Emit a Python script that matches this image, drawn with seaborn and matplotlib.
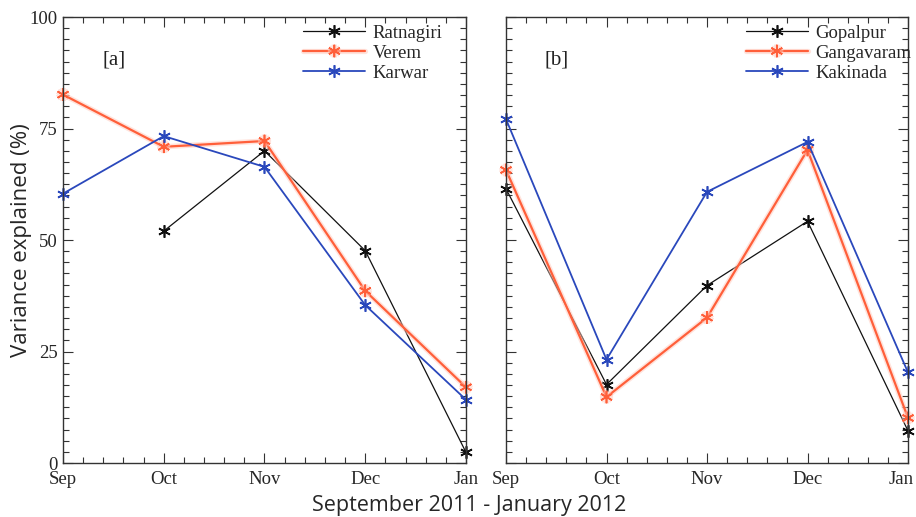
import numpy as np
import pandas as pd
import matplotlib
matplotlib.use("Agg")
import matplotlib.pyplot as plt
import matplotlib.patheffects as pe
import matplotlib.transforms as mtrans
from matplotlib.ticker import MultipleLocator
import seaborn as sns

months = ["Sep", "Oct", "Nov", "Dec", "Jan"]

# Panel [a]
ratnagiri = [np.nan, 52.0, 70.0, 47.6, 2.4]
verem = [82.6, 70.9, 72.2, 38.6, 17.0]
karwar = [60.4, 73.3, 66.4, 35.4, 14.2]

# Panel [b]
gopalpur = [61.5, 17.6, 39.8, 54.2, 7.2]
gangavaram = [65.7, 14.8, 32.6, 70.2, 10.1]
kakinada = [77.1, 23.2, 60.8, 72.0, 20.3]

panel_a = {"Ratnagiri": ratnagiri, "Verem": verem, "Karwar": karwar}
panel_b = {"Gopalpur": gopalpur, "Gangavaram": gangavaram, "Kakinada": kakinada}

colors = ["#111111", "#FF5F3A", "#2A48BC"]
widths = [0.9, 1.6, 1.3]

sns.set_theme(style="white")
serif = ["Liberation Serif", "DejaVu Serif"]
sans = ["Open Sans", "DejaVu Sans"]
plt.rcParams["font.family"] = serif

fig = plt.figure(figsize=(9.16, 5.17), dpi=100)
ax_a = fig.add_axes([0.0688, 0.1044, 0.4399, 0.8627])
ax_b = fig.add_axes([0.5524, 0.1044, 0.4389, 0.8627])

def draw(ax, data, label):
    for i, ((name, vals), c, lw) in enumerate(zip(data.items(), colors, widths)):
        df = pd.DataFrame({"x": np.arange(len(months)), "y": vals}).dropna()
        sns.lineplot(data=df, x="x", y="y", ax=ax, color=c, lw=lw,
                     marker=(6, 2, 0), markersize=9, markeredgecolor=c,
                     markeredgewidth=1.2, label=name, sort=False,
                     clip_on=False)
        if i == 1:
            ax.lines[-1].set_path_effects([
                pe.Stroke(linewidth=3.8, foreground="#FFC8BA", alpha=0.5),
                pe.Normal()])
    ax.set_xlim(0, 4)
    ax.set_ylim(0, 100)
    ax.set_xticks(range(len(months)))
    ax.set_xticklabels(months)
    ax.xaxis.set_minor_locator(MultipleLocator(0.2))
    ax.yaxis.set_major_locator(MultipleLocator(25))
    ax.yaxis.set_minor_locator(MultipleLocator(2.5))
    ax.tick_params(which="both", direction="in", top=True, right=True,
                   bottom=True, left=True, color="#333333", width=0.8,
                   labelsize=13.5)
    ax.tick_params(axis="x", pad=6)
    ax.tick_params(axis="y", pad=4)
    ax.tick_params(which="major", length=7)
    ax.tick_params(which="minor", length=4)
    for s in ax.spines.values():
        s.set_color("#333333")
        s.set_linewidth(1.0)
    ax.set_xlabel("")
    ax.set_ylabel("")
    ax.text(0.506, 90.4, label, fontsize=15, ha="center", va="center",
            family=serif, color="#222222")
    ax.legend(loc="upper left", bbox_to_anchor=(0.578, 1.0), frameon=False,
              fontsize=13.5, handlelength=3.3, handletextpad=0.4,
              labelspacing=0.15, borderaxespad=0.1, borderpad=0.3)

draw(ax_a, panel_a, "[a]")
draw(ax_b, panel_b, "[b]")
ax_b.set_yticklabels([])

# nudge the last right-panel month label inward so it stays on the canvas
last = ax_b.get_xticklabels()[-1]
last.set_transform(last.get_transform() +
                   mtrans.ScaledTranslation(-5 / 72, 0, fig.dpi_scale_trans))

ax_a.set_ylabel("Variance explained (%)", fontsize=16, family=sans)
ax_a.yaxis.set_label_coords(-0.078, 0.5)
fig.text(0.512, 1 - 506 / 517, "September 2011 - January 2012", fontsize=15.5,
         family=sans, ha="center", va="center")

fig.savefig("out.png", dpi=100, facecolor="white")
